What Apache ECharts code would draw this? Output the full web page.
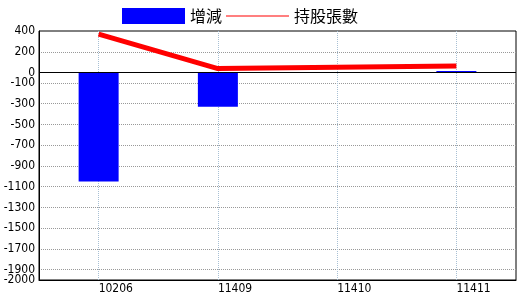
<!DOCTYPE html>
<html>
<head>
<meta charset="utf-8">
<script src="https://cdn.jsdelivr.net/npm/echarts@6/dist/echarts.min.js"></script>
<style>html,body{margin:0;padding:0;background:#fff}#c{width:520px;height:300px}</style>
</head>
<body>
<div id="c"></div>
<script>
var categories = ['10206', '11409', '11410', '11411'];
var changeValues = [-1050, -330, 0, 15];
var holdingValues = [370, 38, 50, 62];
var yLabelValues = [400, 200, 0, -100, -300, -500, -700, -900, -1100, -1300, -1500, -1700, -1900];
var yMinLabelValues = [-2000];
var yGridValues = [200, -100, -300, -500, -700, -900, -1100, -1300, -1500, -1700, -1900];
var yMin = -2000, yMax = 400;
var seriesNames = ['增減', '持股張數'];

var numFont = "'Liberation Sans Narrow', 'Arial Narrow', 'DejaVu Sans Condensed', sans-serif";
var labelStyle = {color: '#000', fontSize: 12, fontFamily: numFont, margin: 4,
  formatter: function (v) { return String(v); }};
var chart = echarts.init(document.getElementById('c'), null, {renderer: 'canvas'});
chart.setOption({
  animation: false,
  backgroundColor: '#fff',
  legend: {
    left: 122, top: 8, padding: 0,
    itemWidth: 63, itemHeight: 16, itemGap: 4,
    textStyle: {fontSize: 16, color: '#000', fontFamily: "'Noto Sans CJK TC', sans-serif"},
    data: [
      {name: seriesNames[0], icon: 'rect', itemStyle: {color: '#0000ff'}},
      {name: seriesNames[1], icon: 'path://M0,0 L63,0 L63,1 L0,1 Z', itemStyle: {color: '#ff0000'}}
    ]
  },
  grid: {left: 39, right: 4, top: 31, bottom: 20, show: true, borderColor: '#000', borderWidth: 1, backgroundColor: 'transparent'},
  xAxis: {
    type: 'category',
    data: categories,
    axisLine: {onZero: false, lineStyle: {color: '#000'}},
    axisTick: {show: false},
    splitLine: {show: false},
    axisLabel: {color: '#000', fontSize: 12, fontFamily: numFont, align: 'left', margin: 3}
  },
  yAxis: [
    {
      type: 'value', position: 'left',
      min: yMin, max: yMax,
      axisLine: {show: true, lineStyle: {color: '#000'}},
      axisTick: {show: false, customValues: yGridValues},
      splitLine: {show: true, lineStyle: {color: '#999', type: 'dotted', width: 1}},
      axisLabel: Object.assign({customValues: yLabelValues}, labelStyle)
    },
    {
      type: 'value', position: 'left', offset: 0,
      min: yMin, max: yMax,
      axisLine: {show: false},
      axisTick: {show: false},
      splitLine: {show: false},
      axisLabel: Object.assign({customValues: yMinLabelValues}, labelStyle)
    }
  ],
  series: [
    {
      name: seriesNames[0],
      type: 'bar',
      data: changeValues,
      barWidth: 40,
      itemStyle: {color: '#0000ff'},
      z: 2,
      markLine: {
        silent: true, symbol: 'none', z: 1,
        label: {show: false},
        emphasis: {disabled: true},
        lineStyle: {color: '#a8c0d4', type: 'dotted', width: 1},
        data: categories.map(function (c) { return {xAxis: c}; })
      }
    },
    {
      name: seriesNames[1],
      type: 'line',
      data: holdingValues,
      symbol: 'none',
      lineStyle: {color: '#ff0000', width: 5},
      itemStyle: {color: '#ff0000'},
      z: 4,
      markLine: {
        silent: true, symbol: 'none', z: 3,
        label: {show: false},
        emphasis: {disabled: true},
        lineStyle: {color: '#000', type: 'solid', width: 1},
        data: [{yAxis: 0}]
      }
    }
  ]
});
</script>
</body>
</html>
